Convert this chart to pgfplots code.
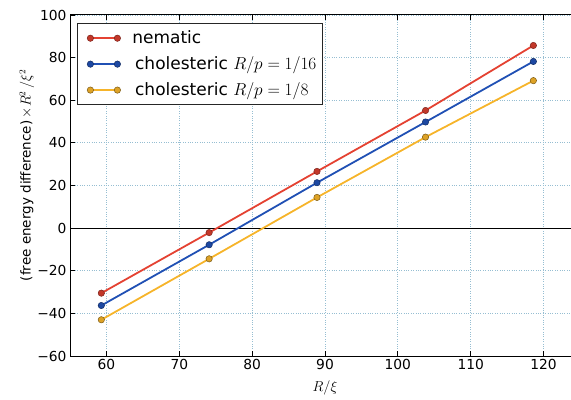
\documentclass[border=0pt]{standalone}
\usepackage{pgfplots}
\pgfplotsset{compat=1.18}
\usepackage{fontspec}
\setmainfont{DejaVu Sans}
\definecolor{cred}{RGB}{228,66,50}
\definecolor{cblue}{RGB}{32,80,180}
\definecolor{corange}{RGB}{246,180,42}
\definecolor{gridc}{RGB}{150,190,210}
\begin{document}
\begin{tikzpicture}
\begin{axis}[
  scale only axis, width=510pt, height=341pt,
  xmin=55, xmax=125, ymin=-60, ymax=100,
  xtick={60,70,...,120}, ytick={-60,-40,...,100},
  xticklabels={60,70,80,90,100,110,120},
  yticklabels={−60,−40,−20,0,20,40,60,80,100},
  ticklabel style={font=\fontsize{13.8}{16}\selectfont},
  grid=major, major grid style={gridc, dotted, line width=0.8pt},
  tick align=inside, major tick length=5pt, tick style={black, line width=0.8pt},
  axis line style={line width=1pt},
  extra y ticks={0}, extra y tick labels={},
  extra y tick style={grid=major, major grid style={black, solid, line width=1pt}, major tick length=0pt},
  xlabel={$R/\xi$},
  ylabel={(free energy difference)$\,\times R^2\,/\xi^2$},
  label style={font=\fontsize{13.5}{15}\selectfont},
  xlabel style={at={(axis description cs:0.5,-0.093)}, anchor=center},
  ylabel style={at={(axis description cs:-0.0843,0.53)}, anchor=center},
  legend style={at={(0,1)}, anchor=north west, xshift=7pt, yshift=-8pt,
    draw=black!85, line width=1pt, fill=white,
    font=\fontsize{17}{20}\selectfont, row sep=7.5pt, inner xsep=4pt, inner ysep=5.5pt},
  legend cell align=left,
  legend image code/.code={\path (-8pt,0pt) (39pt,0pt);\draw[#1,mark repeat=1,mark phase=1] plot coordinates {(0pt,0pt) (27pt,0pt)};},
]
\addplot[cred, line width=1.8pt, mark=*, mark size=3.2pt, mark options={fill=cred!85!black, draw=cred!55!black, line width=0.5pt}]
  coordinates {(59.3,-30.5) (74.1,-2.1) (88.9,26.6) (103.8,55.2) (118.6,85.7)};
\addlegendentry{nematic}
\addplot[cblue, line width=1.8pt, mark=*, mark size=3.2pt, mark options={fill=cblue!90!black, draw=cblue!55!black, line width=0.5pt}]
  coordinates {(59.3,-36.3) (74.1,-7.8) (88.9,21.3) (103.8,49.8) (118.6,78.2)};
\addlegendentry{\,cholesteric $R/p=1/16$}
\addplot[corange, line width=1.8pt, mark=*, mark size=3.2pt, mark options={fill=corange!90!black, draw=corange!50!black, line width=0.5pt}]
  coordinates {(59.3,-43.0) (74.1,-14.4) (88.9,14.4) (103.8,42.7) (118.6,69.2)};
\addlegendentry{\,cholesteric $R/p=1/8$}
\end{axis}
\pgfresetboundingbox
\path[use as bounding box] ([xshift=-70pt,yshift=-43pt]current axis.south west) rectangle ([xshift=-9pt,yshift=15pt]current axis.north east);
\end{tikzpicture}
\end{document}
